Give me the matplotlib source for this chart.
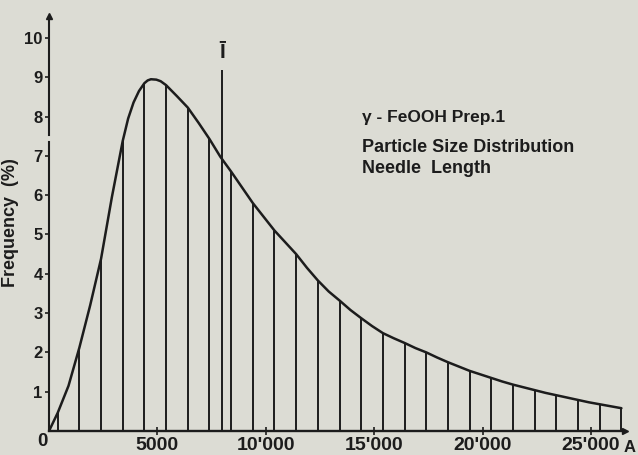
import numpy as np
import matplotlib.pyplot as plt

# needle length (Angstrom) and frequency (%)
curve_x = [0, 400, 900, 1400, 1900, 2400, 2900, 3400, 3650, 3900, 4150, 4400,
           4550, 4700, 4950, 5150, 5400, 5900, 6400, 6900, 7400, 7900, 8400,
           8900, 9400, 9900, 10400, 10900, 11400, 11900, 12400, 12900, 13400,
           13900, 14400, 14900, 15400, 15900, 16400, 16900, 17400, 17900,
           18400, 18900, 19400, 19900, 20400, 20900, 21400, 21900, 22400,
           22900, 23400, 23900, 24400, 24900, 25400, 25900, 26400]
curve_y = [0, 0.46, 1.15, 2.12, 3.2, 4.38, 5.95, 7.38, 7.95, 8.36, 8.65, 8.85,
           8.92, 8.95, 8.94, 8.9, 8.8, 8.52, 8.23, 7.84, 7.43, 6.98, 6.6,
           6.2, 5.8, 5.45, 5.1, 4.8, 4.5, 4.15, 3.83, 3.55, 3.32,
           3.08, 2.87, 2.67, 2.49, 2.36, 2.24, 2.11, 2.0, 1.87,
           1.75, 1.64, 1.53, 1.44, 1.35, 1.26, 1.18, 1.11, 1.04,
           0.97, 0.91, 0.85, 0.79, 0.73, 0.68, 0.63, 0.58]

# class centres drawn as vertical lines
bar_x = [400, 1400, 2400, 3400, 4400, 5400, 6400, 7400, 8400, 9400, 10400,
         11400, 12400, 13400, 14400, 15400, 16400, 17400, 18400, 19400, 20400,
         21400, 22400, 23400, 24400, 25400, 26400]
bar_y = [0.46, 2.12, 4.38, 7.38, 8.85, 8.8, 8.23, 7.43, 6.6, 5.8, 5.1,
         4.5, 3.83, 3.32, 2.87, 2.49, 2.24, 2.0, 1.75, 1.53, 1.35,
         1.18, 1.04, 0.91, 0.79, 0.68, 0.58]

mean_x = 8000
mean_top = 9.19

xticks = [5000, 10000, 15000, 20000, 25000]
xtick_labels = ["5000", "10'000", "15'000", "20'000", "25'000"]
yticks = [1, 2, 3, 4, 5, 6, 7, 8, 9, 10]

ink = '#1c1c1c'
paper = '#dcdcd4'
plt.rcParams['font.family'] = ['Liberation Sans', 'DejaVu Sans']

fig = plt.figure(figsize=(6.38, 4.55), dpi=100, facecolor=paper)
ax = fig.add_axes([49 / 638, 24 / 455, 580 / 638, 416.6 / 455])
ax.set_facecolor(paper)
ax.set_xlim(0, 26750)
ax.set_ylim(0, 10.6)

ax.plot(curve_x, curve_y, color=ink, lw=1.8, solid_capstyle='round',
        solid_joinstyle='round')
ax.vlines(bar_x, 0, bar_y, color=ink, lw=1.4)
ax.vlines(mean_x, 0, mean_top, color=ink, lw=1.4)
ax.text(mean_x, 9.64, 'Ī', ha='center', va='center', fontsize=15,
        fontweight='bold', color=ink)

# axes drawn by hand: y axis has a small break between 7 and 8
for s in ax.spines.values():
    s.set_visible(False)
ax.plot([0, 0], [0, 7.35], color=ink, lw=1.5, clip_on=False)
ax.plot([0, 0], [7.53, 10.5], color=ink, lw=1.5, clip_on=False)
ax.plot([0, 26500], [0, 0], color=ink, lw=1.7, clip_on=False)
ax.plot([0], [10.55], marker='^', ms=5, color=ink, clip_on=False)
ax.plot([26560], [0], marker='>', ms=5, color=ink, clip_on=False)

ax.set_xticks(xticks)
ax.set_xticklabels(xtick_labels)
ax.set_yticks(yticks)
ax.set_yticklabels([str(v) for v in yticks])
ax.tick_params(axis='x', direction='inout', length=6, width=1.2, color=ink,
               labelsize=14, pad=1.5, labelcolor=ink)
ax.tick_params(axis='y', direction='out', length=3, width=1.2, color=ink,
               labelsize=12, pad=1.5, labelcolor=ink)
for lab in ax.get_xticklabels() + ax.get_yticklabels():
    lab.set_fontweight('bold')

ax.text(-280, -0.05, '0', ha='center', va='top', fontsize=13.5,
        fontweight='bold', color=ink, clip_on=False)
ax.text(26480, -0.22, 'A', ha='left', va='top', fontsize=12,
        fontweight='bold', color=ink, clip_on=False)
ax.set_ylabel('Frequency  (%)', fontsize=13, fontweight='bold', color=ink,
              labelpad=4)

ax.text(14420, 7.86, 'γ - FeOOH Prep.1', fontsize=12.5, fontweight='bold',
        color=ink, va='baseline')
ax.text(14420, 7.11, 'Particle Size Distribution', fontsize=13,
        fontweight='bold', color=ink, va='baseline')
ax.text(14420, 6.56, 'Needle  Length', fontsize=13,
        fontweight='bold', color=ink, va='baseline')

fig.savefig('out.png', dpi=100, facecolor=paper)
